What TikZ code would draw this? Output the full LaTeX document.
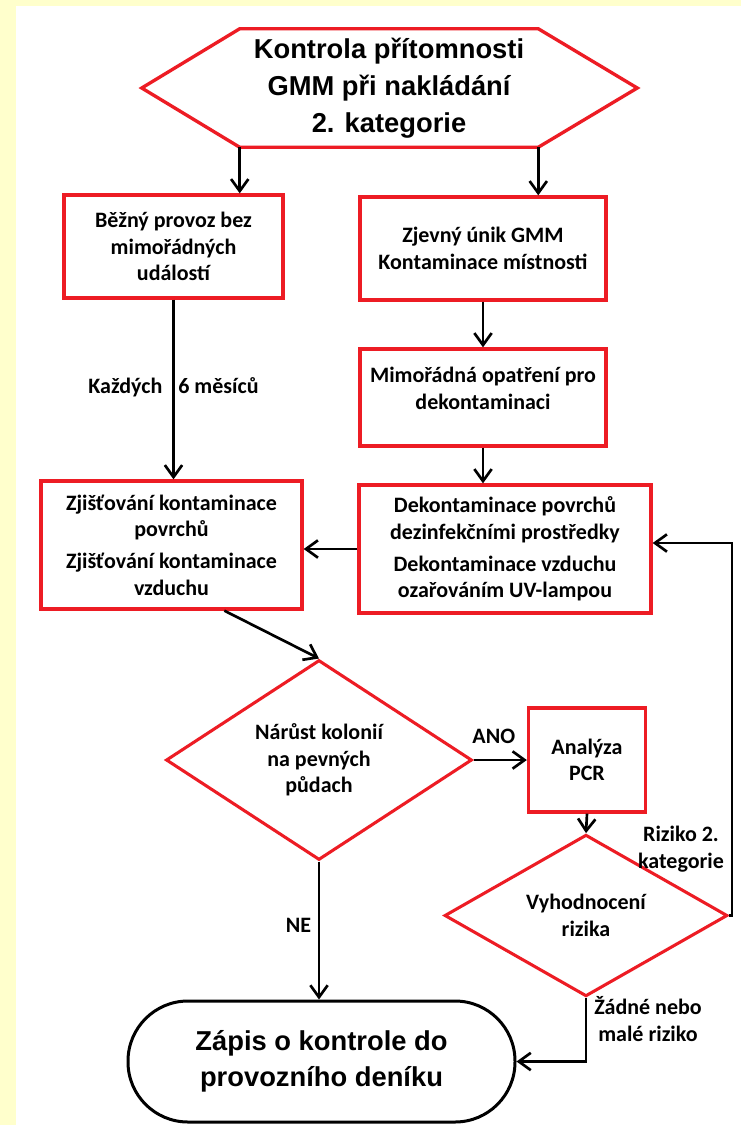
\documentclass[tikz,border=0pt]{standalone}
\usepackage{fontspec}
\setmainfont{Carlito}
\newfontfamily\titlefont{Liberation Sans}
\usetikzlibrary{arrows.meta,calc,shapes.geometric}
\definecolor{bgyellow}{RGB}{255,255,204}
\definecolor{boxred}{RGB}{237,28,36}
\begin{document}
\begin{tikzpicture}[x=0.75pt,y=-0.75pt,
  txt/.style={font=\bfseries\fontsize{16.5}{19.8}\selectfont, align=center, inner sep=0pt},
  redbox/.style={txt, draw=boxred, line width=2.5pt, fill=white},
  reddiamond/.style={txt, diamond, draw=boxred, line width=2.3pt, fill=white},
  arr/.style={draw=black, line width=2pt, -{Straight Barb[length=9pt,width=13pt]}},
  lbl/.style={txt}]
\useasboundingbox (0,0) rectangle (741,1125);
\fill[bgyellow] (0,0) rectangle (741,1125);
\fill[white] (16,6) rectangle (741,1125);

% start (hexagon)
\node[font=\titlefont\bfseries\fontsize{20.5}{27.75}\selectfont, align=center,
      minimum width=223.5pt, minimum height=88.5pt, inner sep=0pt] (start) at (389,88)
  {Kontrola přítomnosti\\GMM při nakládání\\2. kategorie};
\draw[draw=boxred, line width=2.5pt, line join=miter]
  (start.north west) -- (start.north east) -- ($(start.east)+(99,0)$)
  -- (start.south east) -- (start.south west) -- ($(start.west)+(-98,0)$) -- cycle;

% boxes
\node[redbox, minimum width=164.25pt, minimum height=77.25pt] (b1) at (173.5,246.5)
  {Běžný provoz bez\\mimořádných\\událostí};
\node[redbox, minimum width=184.5pt, minimum height=77.25pt] (b2) at (483,248.5)
  {Zjevný únik GMM\\Kontaminace místnosti};
\node[redbox, minimum width=184.5pt, minimum height=72.75pt] (b3) at (483,397.5)
  {Mimořádná opatření pro\\dekontaminaci\\[-6pt]\mbox{}};
\node[redbox, minimum width=219pt, minimum height=96pt] (b4) at (505,549)
  {Dekontaminace povrchů\\dezinfekčními prostředky\\[4.5pt]Dekontaminace vzduchu\\ozařováním UV-lampou};
\node[redbox, minimum width=195.75pt, minimum height=96pt] (b5) at (171.5,545)
  {Zjišťování kontaminace\\povrchů\\[4.5pt]Zjišťování kontaminace\\vzduchu};
\node[reddiamond, minimum width=229.5pt, minimum height=142.5pt] (d1) at (319,760)
  {Nárůst kolonií\\na pevných\\půdach};
\node[redbox, minimum width=87.75pt, minimum height=78pt] (pcr) at (587,760)
  {Analýza\\PCR};
\node[reddiamond, minimum width=212.25pt, minimum height=95.25pt] (d2) at (586,915.5)
  {Vyhodnocení\\rizika};
\node[draw=black, line width=2.25pt, rounded corners=45pt, fill=white,
      minimum width=290.25pt, minimum height=90.75pt, inner sep=0pt, align=center,
      font=\titlefont\bfseries\fontsize{20.5}{27}\selectfont] (term) at (321.5,1061.5)
  {Zápis o kontrole do\\provozního deníku};

% connectors
\draw[arr] (start.south west) -- (start.south west |- b1.north);
\draw[arr] (start.south east) -- (start.south east |- b2.north);
\draw[arr] (b1.south) -- node[lbl, pos=0.486] (lkazd) {Každých\hspace{12pt}6 měsíců} (b1.south |- b5.north);
\draw[arr] (b2.south) -- (b3.north);
\draw[arr] (b3.south) -- (b3.south |- b4.north);
\draw[arr] (b4.west) -- (b4.west -| b5.east);
\draw[arr] ($(b5.south west)!0.7!(b5.south east)$) -- (d1.north);
\draw[arr] (d1.east) -- node[lbl, pos=0.38, above=11pt] (lano) {ANO} (pcr.west);
\draw[arr] (pcr.south) -- (d2.north);
\draw[arr] (d2.east) -- ++(3,0) |- ([yshift=4.5pt]b4.east);
\draw[arr] (d2.south) |- (term.east);
\draw[arr] (d1.south) -- node[lbl, pos=0.466, left=5pt] (lne) {NE} (d1.south |- term.north);

% labels
\node[lbl] (lrisk) at (681,849) {Riziko 2.\\kategorie};
\node[lbl] (lnone) at (648,1019) {Žádné nebo\\malé riziko};
\end{tikzpicture}
\end{document}
